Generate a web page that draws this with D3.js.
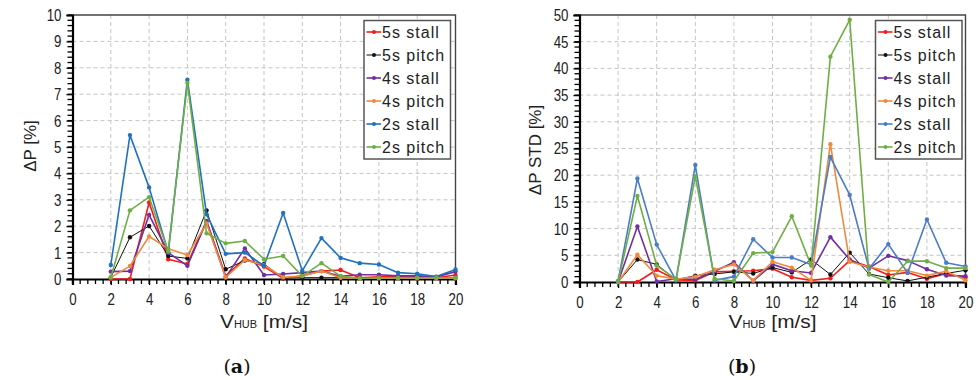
<!DOCTYPE html>
<html><head><meta charset="utf-8">
<script src="https://cdn.jsdelivr.net/npm/d3@7"></script>
<style>body{margin:0;background:#fff} svg{display:block}</style>
</head><body><svg id="c" width="979" height="380"></svg>
<script>
// ---------- data ----------
const windSpeed = [2,3,4,5,6,7,8,9,10,11,12,13,14,15,16,17,18,19,20];
const seriesNames = ["5s stall","5s pitch","4s stall","4s pitch","2s stall","2s pitch"];

// (a) ΔP [%]
const dP_5sStall = [0.00,0.00,2.90,0.75,0.57,2.20,0.11,0.78,0.47,0.03,0.12,0.30,0.34,0.05,0.08,0.10,0.10,0.05,0.15];
const dP_5sPitch = [0.06,1.58,2.01,0.87,0.78,2.60,0.37,0.70,0.57,0.03,0.05,0.05,0.05,0.05,0.05,0.05,0.05,0.05,0.05];
const dP_4sStall = [0.28,0.30,2.43,1.00,0.50,2.18,0.06,1.16,0.15,0.19,0.24,0.30,0.10,0.16,0.16,0.12,0.12,0.08,0.28];
const dP_4sPitch = [0.06,0.49,1.61,1.15,0.91,2.10,0.06,0.72,0.53,0.06,0.11,0.30,0.05,0.03,0.03,0.03,0.03,0.03,0.03];
const dP_2sStall = [0.53,5.45,3.47,1.00,7.55,2.45,0.95,1.00,0.50,2.50,0.31,1.55,0.80,0.60,0.55,0.24,0.20,0.09,0.36];
const dP_2sPitch = [0.06,2.60,3.10,1.05,7.43,1.73,1.35,1.44,0.75,0.87,0.11,0.60,0.11,0.02,0.05,0.05,0.05,0.05,0.05];

// (b) ΔP STD [%]
const dPstd_5sStall = [0.0,0.0,2.3,0.4,0.3,1.9,2.0,2.1,2.5,0.9,0.3,0.7,4.0,2.9,1.3,1.8,0.6,1.6,0.8];
const dPstd_5sPitch = [0.0,4.2,3.3,0.4,1.2,1.5,1.9,1.6,2.7,1.8,4.2,1.4,5.5,1.5,0.8,0.2,0.9,1.6,2.2];
const dPstd_4sStall = [0.0,10.4,0.1,0.6,0.5,2.0,3.7,0.2,3.3,2.1,1.7,8.4,4.2,2.6,4.9,4.0,2.4,1.2,1.1];
const dPstd_4sPitch = [0.0,5.1,1.2,0.5,1.0,2.3,3.3,0.3,3.8,2.7,0.3,25.8,3.8,2.8,2.1,2.1,1.2,2.0,0.3];
const dPstd_2sStall = [0.2,19.4,7.0,0.3,21.9,0.3,1.0,8.0,4.6,4.6,3.3,23.4,16.3,2.5,7.1,1.7,11.7,3.6,2.9];
const dPstd_2sPitch = [0.0,16.1,3.1,0.5,19.8,0.6,0.2,5.4,5.6,12.3,3.1,42.2,49.1,1.4,0.0,3.9,3.9,2.6,2.6];

const xTickValues = [0,2,4,6,8,10,12,14,16,18,20];
const yTickValuesA = [0,1,2,3,4,5,6,7,8,9,10];
const yTickValuesB = [0,5,10,15,20,25,30,35,40,45,50];

// ---------- styles (not data) ----------
const colorsA = ["#f21d1d","#111111","#7030a0","#f08a3c","#1f72be","#6fae45"];
const colorsB = ["#f21d1d","#111111","#7030a0","#f08a3c","#4a7cc8","#6fae45"];
const widths = [1.6,1.0,1.6,1.6,1.6,1.6];

const svg = d3.select("#c");
const sans = "'Liberation Sans',Arial,sans-serif";

function panel(opt){
  const g = svg.append("g");
  const x = d3.scaleLinear().domain([0,20]).range([opt.x0,opt.x1]);
  const y = d3.scaleLinear().domain([0,opt.ymax]).range([opt.y1,opt.y0]);

  // grid
  g.append("g").selectAll("line").data(xTickValues.filter(d=>d>0&&d<20)).join("line")
    .attr("x1",d=>x(d)).attr("x2",d=>x(d)).attr("y1",opt.y0).attr("y2",opt.y1)
    .attr("stroke","#c4c4c4").attr("stroke-width",1).attr("stroke-dasharray","4,3");
  g.append("g").selectAll("line").data(opt.yTicks.filter(d=>d>0&&d<opt.ymax)).join("line")
    .attr("x1",opt.x0).attr("x2",opt.x1).attr("y1",d=>y(d)).attr("y2",d=>y(d))
    .attr("stroke","#c4c4c4").attr("stroke-width",1).attr("stroke-dasharray","4,3");

  // frame top/right
  g.append("path").attr("d",`M${opt.x0},${opt.y0}H${opt.x1}V${opt.y1}`)
    .attr("fill","none").attr("stroke","#444").attr("stroke-width",1.4);

  // minor ticks
  const yMinor = d3.range(0,opt.ymax+1e-9,opt.yMinor);
  g.append("g").selectAll("line").data(yMinor).join("line")
    .attr("x1",opt.x0-5).attr("x2",opt.x0).attr("y1",d=>y(d)).attr("y2",d=>y(d))
    .attr("stroke","#000").attr("stroke-width",1.3);
  const xMinor = d3.range(0,20+1e-9,0.4);
  g.append("g").selectAll("line").data(xMinor).join("line")
    .attr("x1",d=>x(d)).attr("x2",d=>x(d)).attr("y1",opt.y1).attr("y2",opt.y1+5)
    .attr("stroke","#000").attr("stroke-width",1.3);

  // axes with d3 (labels)
  const ya = g.append("g").attr("transform",`translate(${opt.x0},0)`)
    .call(d3.axisLeft(y).tickValues(opt.yTicks).tickSize(6).tickPadding(5).tickFormat(d3.format("d")));
  const xa = g.append("g").attr("transform",`translate(0,${opt.y1})`)
    .call(d3.axisBottom(x).tickValues(xTickValues).tickSize(6).tickPadding(8).tickFormat(d3.format("d")));
  [ya,xa].forEach(a=>{
    a.select(".domain").attr("stroke","#000").attr("stroke-width",2.2);
    a.selectAll(".tick line").attr("stroke","#000").attr("stroke-width",1.3);
    a.selectAll(".tick text").attr("font-family",sans).attr("font-size",17).attr("fill","#222")
      .attr("textLength",d=>String(d).length*7.4).attr("lengthAdjust","spacingAndGlyphs");
  });

  // series
  const line = d3.line().x((d,i)=>x(windSpeed[i])).y(d=>y(d));
  opt.series.forEach((s,k)=>{
    g.append("path").datum(s).attr("d",line).attr("fill","none")
      .attr("stroke",opt.colors[k]).attr("stroke-width",widths[k]).attr("stroke-linejoin","round");
    g.append("g").selectAll("circle").data(s).join("circle")
      .attr("cx",(d,i)=>x(windSpeed[i])).attr("cy",d=>y(d)).attr("r",2.2).attr("fill",opt.colors[k]);
  });

  // legend
  const lg = g.append("g");
  lg.append("rect").attr("x",opt.lx).attr("y",20.5).attr("width",86.5).attr("height",138.5)
    .attr("fill","#fff").attr("stroke","#555").attr("stroke-width",1.5);
  seriesNames.forEach((n,k)=>{
    const yy = 32 + k*23;
    lg.append("line").attr("x1",opt.lx+2.5).attr("x2",opt.lx+17).attr("y1",yy).attr("y2",yy)
      .attr("stroke",opt.colors[k]).attr("stroke-width",widths[k]);
    lg.append("circle").attr("cx",opt.lx+10).attr("cy",yy).attr("r",2).attr("fill",opt.colors[k]);
    lg.append("text").attr("x",opt.lx+18).attr("y",yy+6).text(n)
      .attr("font-family",sans).attr("font-size",16)
      .attr("letter-spacing","1px").attr("fill","#222");
  });

  // axis titles
  svg.append("text").attr("transform",`translate(${opt.ytx},${opt.yty}) rotate(-90)`)
    .attr("text-anchor","middle").attr("font-family",sans)
    .attr("font-size",17).attr("fill","#222").text(opt.ytitle);
  const xt = svg.append("text").attr("x",(opt.x0+opt.x1)/2).attr("y",328).attr("text-anchor","middle")
    .attr("font-family",sans).attr("font-size",19).attr("fill","#222")
    .attr("textLength",88).attr("lengthAdjust","spacingAndGlyphs");
  xt.append("tspan").text("V");
  xt.append("tspan").attr("font-size",10).text("HUB");
  xt.append("tspan").text(" [m/s]");

  svg.append("text").attr("x",opt.capx).attr("y",373).attr("text-anchor","middle")
    .attr("font-family","'DejaVu Serif','Liberation Serif',serif").attr("font-size",19).attr("fill","#111")
    .call(t=>{t.append("tspan").text("(");t.append("tspan").attr("font-weight","bold").text(opt.cap);t.append("tspan").text(")");});
}

panel({x0:72.5,x1:455.5,y0:15,y1:279,ymax:10,yTicks:yTickValuesA,yMinor:0.2,
  series:[dP_5sStall,dP_5sPitch,dP_4sStall,dP_4sPitch,dP_2sStall,dP_2sPitch],
  colors:colorsA,lx:364,ytitle:"ΔP [%]",ytx:36,yty:146,capx:237,cap:"a"});
panel({x0:579.5,x1:965.5,y0:15,y1:282,ymax:50,yTicks:yTickValuesB,yMinor:1,
  series:[dPstd_5sStall,dPstd_5sPitch,dPstd_4sStall,dPstd_4sPitch,dPstd_2sStall,dPstd_2sPitch],
  colors:colorsB,lx:875.5,ytitle:"ΔP STD [%]",ytx:541,yty:150,capx:742,cap:"b"});
</script></body></html>
